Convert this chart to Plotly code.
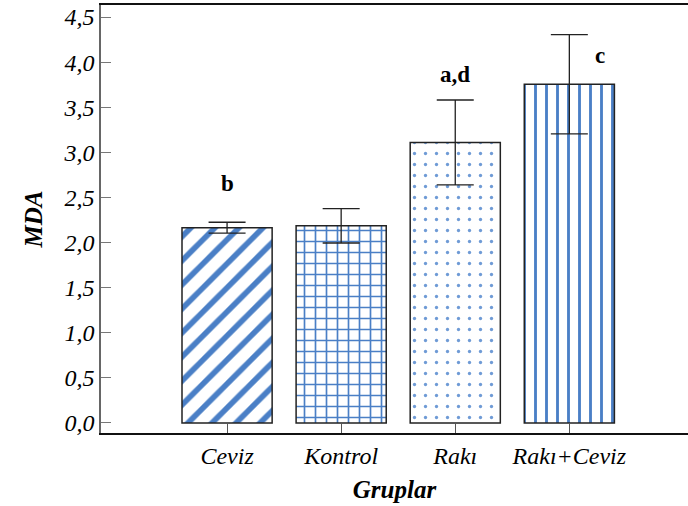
import plotly.graph_objects as go

categories = ["Ceviz", "Kontrol", "Rakı", "Rakı+Ceviz"]
mda_mean = [2.165, 2.185, 3.11, 3.755]
mda_err = [0.06, 0.19, 0.47, 0.55]
sig_labels = ["b", "", "a,d", "c"]
sig_x = [0, 1, 2, 3.27]
sig_y = [2.66, 0, 3.86, 4.07]
y_ticks = [0.0, 0.5, 1.0, 1.5, 2.0, 2.5, 3.0, 3.5, 4.0, 4.5]

BLUE = "#4a7fc6"
SERIF = "Liberation Serif"
shapes = ["/", "+", ".", "|"]
sizes = [17, 11, 11, 11]
solid = [0.33, 0.28, 0.07, 0.26]
fgcols = [BLUE, BLUE, "#6f9bd6", BLUE]

fig = go.Figure()
for i, cat in enumerate(categories):
    fig.add_trace(go.Bar(
        x=[i], y=[mda_mean[i]], width=0.79,
        marker=dict(color="white", line=dict(color="#222222", width=1.5),
                    pattern=dict(shape=shapes[i], fgcolor=fgcols[i], bgcolor="white", fgopacity=1,
                                 size=sizes[i], solidity=solid[i], fillmode="overlay")),
        error_y=dict(type="data", array=[mda_err[i]], color="#222222", thickness=1.3, width=18.5),
        showlegend=False,
    ))

for lx, ly, t in zip(sig_x, sig_y, sig_labels):
    if t:
        fig.add_annotation(x=lx, y=ly, text=t, showarrow=False,
                           font=dict(family=SERIF, size=23, color="black", weight="bold"))

fig.update_layout(
    width=688, height=506,
    margin=dict(l=101, r=0, t=5, b=73),
    plot_bgcolor="white", paper_bgcolor="white",
    xaxis=dict(
        range=[-1.105, 4.04], tickmode="array", tickvals=list(range(len(categories))),
        ticktext=categories, ticks="inside", ticklen=10, tickcolor="#555555",
        showline=True, linecolor="#111111", linewidth=1.5, mirror=True, showgrid=False,
        zeroline=False,
        tickfont=dict(family=SERIF, size=24, color="black", style="italic"),
        title=dict(text="Gruplar", standoff=13,
                   font=dict(family=SERIF, size=25, color="black", style="italic", weight="bold")),
    ),
    yaxis=dict(
        range=[-0.111, 4.633], tickmode="array", tickvals=y_ticks,
        ticktext=[f"{v:.1f}".replace(".", ",") for v in y_ticks],
        ticks="inside", ticklen=10, tickcolor="#777777",
        showline=True, linecolor="#666666", linewidth=1.5, showgrid=False, zeroline=False,
        tickfont=dict(family=SERIF, size=24, color="black", style="italic"),
        title=dict(text="MDA", standoff=14,
                   font=dict(family=SERIF, size=25, color="black", style="italic", weight="bold")),
    ),
)

fig.write_html("out.html")
